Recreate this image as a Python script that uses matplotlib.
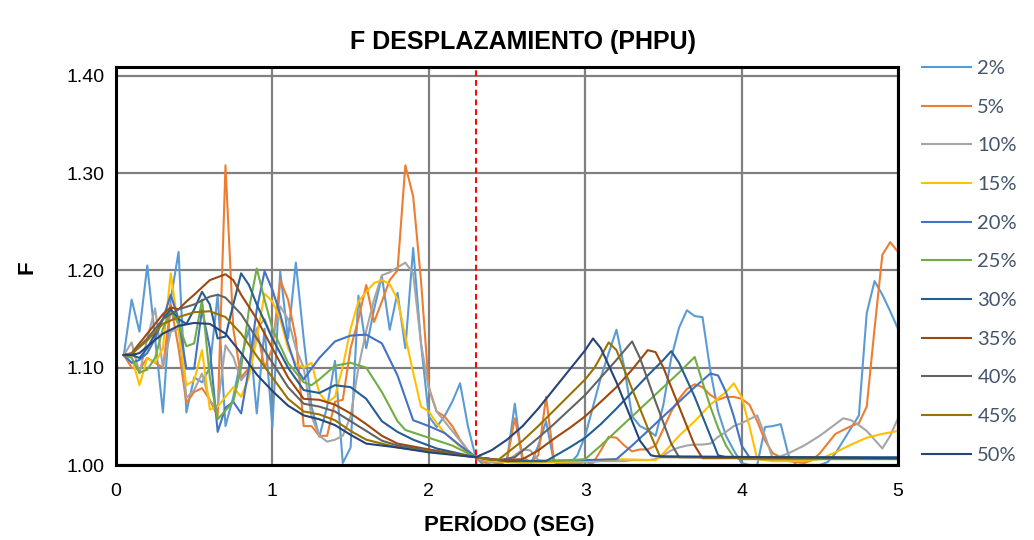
import numpy as np
import matplotlib
matplotlib.use("Agg")
import matplotlib.pyplot as plt

plt.rcParams['font.family'] = ['Liberation Sans', 'DejaVu Sans']

# periodos (s) para las series de amortiguamiento bajo, paso 0.05
periodo = np.round(np.arange(1, 101) * 0.05, 2)

f_02 = [1.113, 1.170, 1.137, 1.205, 1.130, 1.054, 1.170, 1.219, 1.054, 1.090,
        1.085, 1.100, 1.175, 1.040, 1.070, 1.110, 1.140, 1.053, 1.140, 1.039,
        1.199, 1.130, 1.208, 1.130, 1.060, 1.029, 1.060, 1.107, 1.002, 1.018,
        1.174, 1.120, 1.160, 1.194, 1.139, 1.177, 1.120, 1.223, 1.125, 1.050,
        1.039, 1.050, 1.065, 1.084, 1.040, 1.008, 1.000, 1.000, 1.002, 1.005,
        1.063, 1.002, 1.000, 1.020, 1.045, 1.003, 1.000, 1.001, 1.010, 1.030,
        1.060, 1.090, 1.115, 1.139, 1.100, 1.050, 1.040, 1.036, 1.030, 1.062,
        1.110, 1.141, 1.159, 1.153, 1.152, 1.097, 1.055, 1.030, 1.015, 1.002,
        1.000, 1.000, 1.039, 1.040, 1.042, 1.010, 1.000, 1.000, 1.000, 1.000,
        1.003, 1.012, 1.025, 1.038, 1.051, 1.156, 1.189, 1.175, 1.158, 1.140]

f_05 = [1.113, 1.100, 1.098, 1.110, 1.105, 1.100, 1.165, 1.120, 1.064, 1.075,
        1.079, 1.067, 1.050, 1.308, 1.140, 1.090, 1.100, 1.140, 1.100, 1.120,
        1.190, 1.170, 1.130, 1.040, 1.040, 1.030, 1.030, 1.065, 1.067, 1.120,
        1.150, 1.185, 1.147, 1.168, 1.190, 1.200, 1.308, 1.276, 1.190, 1.080,
        1.055, 1.050, 1.040, 1.026, 1.015, 1.008, 1.003, 1.000, 1.000, 1.005,
        1.048, 1.008, 1.003, 1.010, 1.070, 1.005, 1.002, 1.001, 1.002, 1.000,
        1.002, 1.015, 1.029, 1.028, 1.020, 1.014, 1.016, 1.016, 1.020, 1.037,
        1.055, 1.068, 1.078, 1.083, 1.080, 1.072, 1.067, 1.070, 1.070, 1.068,
        1.062, 1.045, 1.025, 1.012, 1.008, 1.004, 1.003, 1.002, 1.005, 1.012,
        1.022, 1.032, 1.036, 1.040, 1.043, 1.060, 1.140, 1.216, 1.229, 1.219]

f_10 = [1.113, 1.126, 1.094, 1.130, 1.161, 1.100, 1.137, 1.140, 1.069, 1.077,
        1.094, 1.065, 1.060, 1.123, 1.111, 1.087, 1.097, 1.140, 1.150, 1.130,
        1.163, 1.150, 1.120, 1.100, 1.050, 1.030, 1.024, 1.026, 1.030, 1.050,
        1.100, 1.138, 1.170, 1.195, 1.198, 1.203, 1.208, 1.197, 1.125, 1.078,
        1.055, 1.045, 1.035, 1.025, 1.015, 1.008, 1.004, 1.003, 1.003, 1.004,
        1.010, 1.016, 1.015, 1.005, 1.003, 1.003, 1.003, 1.003, 1.003, 1.003,
        1.003, 1.004, 1.004, 1.004, 1.004, 1.005, 1.005, 1.005, 1.006, 1.010,
        1.015, 1.018, 1.020, 1.021, 1.021, 1.022, 1.029, 1.034, 1.040, 1.043,
        1.047, 1.051, 1.030, 1.006, 1.009, 1.012, 1.016, 1.020, 1.025, 1.030,
        1.036, 1.042, 1.048, 1.046, 1.041, 1.035, 1.026, 1.017, 1.030, 1.048]

# series suavizadas: pares (periodo, F)
serie_15 = [(0.05, 1.113), (0.10, 1.111), (0.15, 1.082), (0.20, 1.110), (0.25, 1.105),
            (0.30, 1.120), (0.35, 1.197), (0.40, 1.140), (0.45, 1.082), (0.50, 1.087),
            (0.55, 1.118), (0.60, 1.057), (0.65, 1.060), (0.70, 1.070), (0.75, 1.080),
            (0.80, 1.070), (0.85, 1.090), (0.90, 1.130), (0.95, 1.176), (1.00, 1.168),
            (1.05, 1.150), (1.10, 1.120), (1.15, 1.104), (1.20, 1.100), (1.25, 1.105),
            (1.30, 1.074), (1.35, 1.064), (1.40, 1.070), (1.45, 1.101), (1.50, 1.140),
            (1.55, 1.168), (1.60, 1.178), (1.65, 1.187), (1.70, 1.190), (1.75, 1.186),
            (1.80, 1.170), (1.85, 1.132), (1.90, 1.095), (1.95, 1.060), (2.00, 1.055),
            (2.05, 1.043), (2.10, 1.033), (2.20, 1.019), (2.30, 1.008), (2.40, 1.004),
            (2.60, 1.002), (2.80, 1.003), (3.00, 1.004), (3.20, 1.006), (3.45, 1.005),
            (3.50, 1.012), (3.60, 1.030), (3.70, 1.045), (3.80, 1.062), (3.90, 1.075),
            (3.95, 1.084), (4.00, 1.070), (4.05, 1.040), (4.10, 1.006), (4.20, 1.004),
            (4.40, 1.004), (4.50, 1.006), (4.60, 1.013), (4.70, 1.021), (4.80, 1.028),
            (4.90, 1.032), (5.00, 1.035)]

serie_20 = [(0.05, 1.113), (0.10, 1.105), (0.15, 1.108), (0.20, 1.115), (0.25, 1.130),
            (0.30, 1.150), (0.35, 1.175), (0.40, 1.150), (0.45, 1.099), (0.50, 1.099),
            (0.55, 1.160), (0.60, 1.120), (0.65, 1.034), (0.70, 1.059), (0.75, 1.065),
            (0.80, 1.053), (0.85, 1.100), (0.90, 1.160), (0.95, 1.199), (1.00, 1.180),
            (1.05, 1.155), (1.10, 1.125), (1.15, 1.100), (1.20, 1.088), (1.30, 1.110),
            (1.40, 1.127), (1.50, 1.133), (1.60, 1.134), (1.70, 1.125), (1.80, 1.092),
            (1.90, 1.046), (2.00, 1.040), (2.10, 1.033), (2.20, 1.020), (2.30, 1.008),
            (2.50, 1.004), (3.00, 1.005), (3.20, 1.006), (3.30, 1.020), (3.40, 1.035),
            (3.50, 1.050), (3.60, 1.065), (3.70, 1.080), (3.80, 1.094), (3.85, 1.092),
            (3.90, 1.075), (3.95, 1.050), (4.00, 1.020), (4.05, 1.008), (5.00, 1.007)]

serie_25 = [(0.05, 1.113), (0.10, 1.110), (0.15, 1.095), (0.20, 1.098), (0.25, 1.110),
            (0.30, 1.140), (0.35, 1.158), (0.40, 1.145), (0.45, 1.122), (0.50, 1.125),
            (0.55, 1.170), (0.60, 1.090), (0.65, 1.047), (0.70, 1.056), (0.75, 1.065),
            (0.80, 1.100), (0.85, 1.160), (0.90, 1.202), (0.95, 1.170), (1.00, 1.140),
            (1.10, 1.105), (1.20, 1.085), (1.25, 1.082), (1.30, 1.088), (1.40, 1.102),
            (1.50, 1.105), (1.60, 1.100), (1.70, 1.075), (1.80, 1.045), (1.85, 1.036),
            (2.00, 1.028), (2.15, 1.020), (2.30, 1.008), (2.50, 1.004), (2.80, 1.004),
            (3.00, 1.006), (3.10, 1.020), (3.20, 1.035), (3.30, 1.050), (3.40, 1.065),
            (3.50, 1.080), (3.60, 1.095), (3.70, 1.111), (3.75, 1.085), (3.80, 1.060),
            (3.85, 1.038), (3.90, 1.020), (3.95, 1.008), (4.00, 1.006), (5.00, 1.006)]

serie_30 = [(0.05, 1.113), (0.10, 1.113), (0.15, 1.110), (0.20, 1.120), (0.25, 1.135),
            (0.30, 1.150), (0.35, 1.160), (0.40, 1.150), (0.45, 1.145), (0.50, 1.160),
            (0.55, 1.178), (0.60, 1.165), (0.65, 1.130), (0.70, 1.132), (0.75, 1.165),
            (0.80, 1.197), (0.85, 1.185), (0.90, 1.165), (1.00, 1.130), (1.10, 1.100),
            (1.20, 1.077), (1.30, 1.074), (1.40, 1.082), (1.50, 1.080), (1.60, 1.068),
            (1.70, 1.045), (1.80, 1.034), (1.90, 1.026), (2.05, 1.017), (2.30, 1.008),
            (2.50, 1.004), (2.75, 1.004), (2.90, 1.018), (3.00, 1.028), (3.10, 1.042),
            (3.20, 1.058), (3.30, 1.075), (3.40, 1.092), (3.50, 1.108), (3.55, 1.117),
            (3.60, 1.105), (3.70, 1.070), (3.80, 1.030), (3.85, 1.010), (3.90, 1.008),
            (5.00, 1.008)]

serie_35 = [(0.05, 1.113), (0.10, 1.115), (0.20, 1.135), (0.30, 1.155), (0.35, 1.162),
            (0.40, 1.160), (0.45, 1.168), (0.50, 1.175), (0.60, 1.190), (0.70, 1.196),
            (0.75, 1.190), (0.80, 1.175), (0.90, 1.150), (1.00, 1.120), (1.10, 1.090),
            (1.20, 1.068), (1.30, 1.067), (1.40, 1.062), (1.50, 1.053), (1.60, 1.042),
            (1.70, 1.030), (1.80, 1.022), (2.00, 1.016), (2.30, 1.008), (2.45, 1.005),
            (2.60, 1.006), (2.70, 1.015), (2.80, 1.027), (2.90, 1.038), (3.00, 1.050),
            (3.10, 1.065), (3.20, 1.080), (3.30, 1.098), (3.40, 1.118), (3.45, 1.116),
            (3.50, 1.100), (3.60, 1.060), (3.70, 1.020), (3.75, 1.007), (5.00, 1.007)]

serie_40 = [(0.05, 1.113), (0.10, 1.114), (0.20, 1.130), (0.30, 1.150), (0.40, 1.160),
            (0.50, 1.165), (0.60, 1.173), (0.65, 1.175), (0.70, 1.172), (0.80, 1.155),
            (0.90, 1.130), (1.00, 1.105), (1.10, 1.080), (1.20, 1.063), (1.30, 1.060),
            (1.40, 1.055), (1.50, 1.045), (1.60, 1.035), (1.70, 1.025), (1.80, 1.020),
            (2.00, 1.015), (2.30, 1.008), (2.45, 1.005), (2.55, 1.008), (2.70, 1.028),
            (2.80, 1.042), (2.90, 1.057), (3.00, 1.072), (3.10, 1.090), (3.20, 1.108),
            (3.30, 1.127), (3.35, 1.110), (3.45, 1.065), (3.55, 1.022), (3.60, 1.008),
            (5.00, 1.007)]

serie_45 = [(0.05, 1.113), (0.10, 1.114), (0.20, 1.128), (0.30, 1.145), (0.40, 1.152),
            (0.50, 1.157), (0.60, 1.158), (0.70, 1.152), (0.80, 1.135), (0.90, 1.112),
            (1.00, 1.090), (1.10, 1.068), (1.20, 1.055), (1.30, 1.052), (1.40, 1.046),
            (1.50, 1.035), (1.60, 1.026), (1.80, 1.018), (2.00, 1.014), (2.30, 1.008),
            (2.40, 1.005), (2.45, 1.006), (2.60, 1.025), (2.70, 1.040), (2.80, 1.056),
            (2.90, 1.072), (3.00, 1.088), (3.06, 1.100), (3.15, 1.126), (3.20, 1.118),
            (3.30, 1.078), (3.40, 1.038), (3.48, 1.008), (5.00, 1.007)]

serie_50 = [(0.05, 1.113), (0.10, 1.113), (0.15, 1.115), (0.20, 1.122), (0.30, 1.135),
            (0.40, 1.143), (0.50, 1.146), (0.60, 1.145), (0.70, 1.135), (0.80, 1.115),
            (0.90, 1.093), (1.00, 1.076), (1.10, 1.061), (1.20, 1.051), (1.30, 1.047),
            (1.40, 1.041), (1.50, 1.031), (1.60, 1.022), (1.80, 1.018), (2.00, 1.013),
            (2.30, 1.008), (2.40, 1.015), (2.50, 1.026), (2.60, 1.040), (2.70, 1.058),
            (2.80, 1.078), (2.90, 1.098), (3.00, 1.118), (3.05, 1.130), (3.10, 1.120),
            (3.20, 1.085), (3.30, 1.045), (3.35, 1.025), (3.42, 1.010), (3.45, 1.009),
            (5.00, 1.007)]

etiquetas = ['2%', '5%', '10%', '15%', '20%', '25%', '30%', '35%', '40%', '45%', '50%']
colores = ['#5B9BD5', '#ED7D31', '#A5A5A5', '#FFC000', '#4472C4', '#70AD47',
           '#255E91', '#9E480E', '#636363', '#997300', '#264478']
periodo_limite = 2.3

series = [(periodo, f_02), (periodo, f_05), (periodo, f_10)]
for s in [serie_15, serie_20, serie_25, serie_30, serie_35, serie_40, serie_45, serie_50]:
    t, f = zip(*s)
    series.append((t, f))

fig = plt.figure(figsize=(10.34, 5.4), dpi=100)
ax = fig.add_axes([116 / 1034, 1 - 465 / 540, 782 / 1034, 398 / 540])

for (t, f), lab, col in zip(series, etiquetas, colores):
    ax.plot(t, f, color=col, lw=1.5, label=lab)

ax.axvline(periodo_limite, color='#FF0000', lw=1.4, ls=(0, (3, 2)))

ax.set_xlim(0, 5)
ax.set_ylim(1.0, 1.409)
ax.set_xticks([0, 1, 2, 3, 4, 5])
ax.set_yticks([1.0, 1.1, 1.2, 1.3, 1.4])
ax.set_yticklabels(['1.00', '1.10', '1.20', '1.30', '1.40'])
ax.tick_params(length=0, labelsize=14, colors='black')
ax.tick_params(axis='x', pad=13)
ax.tick_params(axis='y', pad=8)
ax.set_axisbelow(True)
ax.grid(True, color='#808080', lw=1.6)
for sp in ax.spines.values():
    sp.set_linewidth(2.2)
    sp.set_color('black')

fig.text(523 / 1034, 1 - 42 / 540, 'F DESPLAZAMIENTO (PHPU)', ha='center', va='center',
         fontsize=18, fontweight='bold')
fig.text(509 / 1034, 1 - 524 / 540, 'PERÍODO (SEG)', ha='center', va='center',
         fontsize=16, fontweight='bold')
fig.text(27 / 1034, 1 - 267 / 540, 'F', ha='center', va='center', rotation=90,
         fontsize=16, fontweight='bold')

leg = fig.legend(loc='upper left', bbox_to_anchor=(922 / 1034, 1 - 60 / 540),
                 frameon=False, borderaxespad=0, borderpad=0, handlelength=2.45,
                 handletextpad=0.3, labelspacing=1.07,
                 prop={'family': 'Lato', 'size': 14.5})
for txt in leg.get_texts():
    txt.set_color('#44546A')

fig.savefig('out.png', dpi=100)
